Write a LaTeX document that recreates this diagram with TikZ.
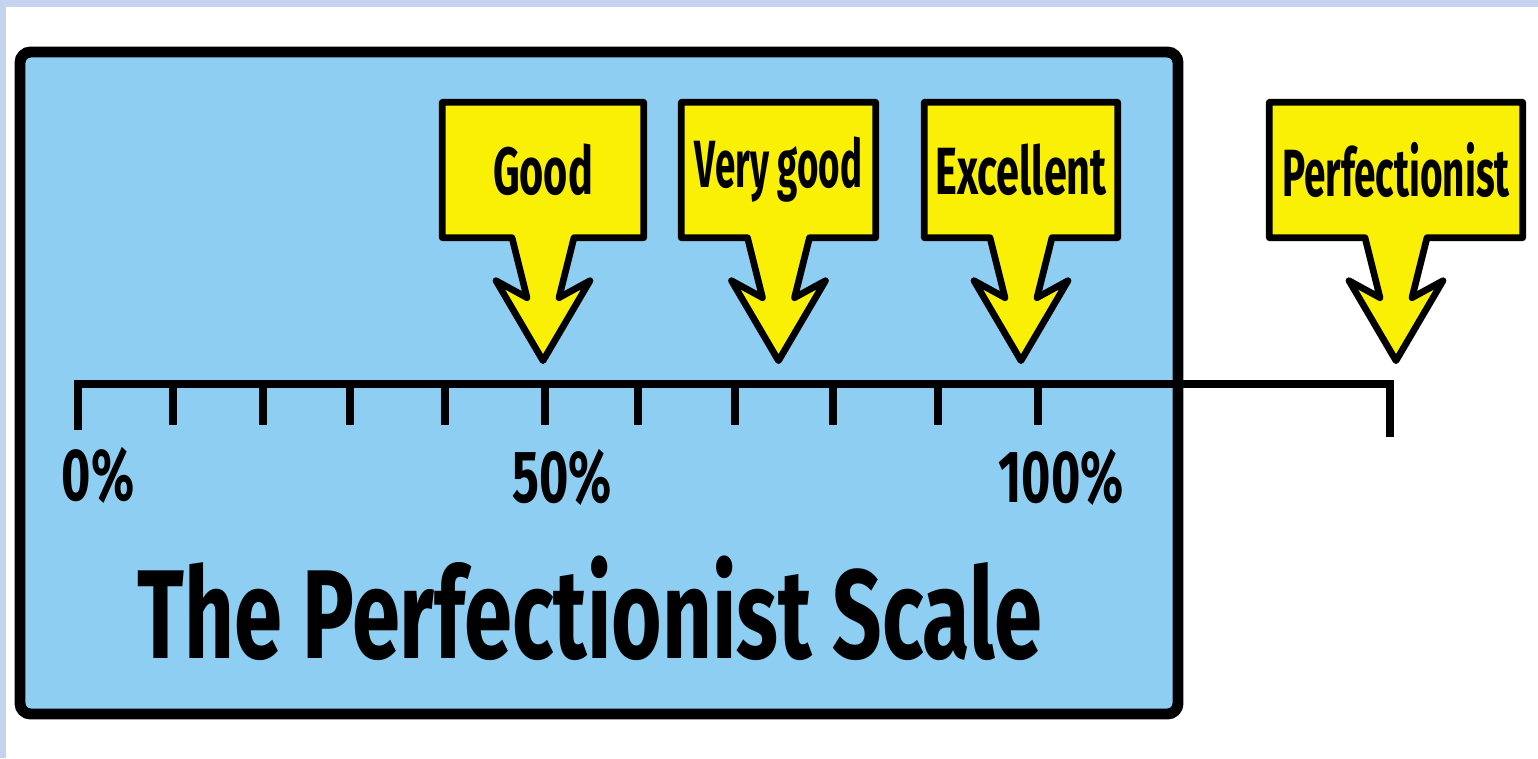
\documentclass[tikz,border=0pt]{standalone}
\usepackage{fontspec}
\setmainfont{Fira Sans}
\usetikzlibrary{calc}
\definecolor{boxblue}{RGB}{142,206,243}
\definecolor{tagyellow}{RGB}{250,240,5}
\definecolor{edgeblue}{RGB}{196,212,238}
\newcommand{\narrowtext}[2][0.62]{\scalebox{#1}[1]{#2}}
\tikzset{tag/.style = {fill=tagyellow, minimum width=#1, minimum height=1.34cm, inner sep=0, font=\fontsize{19}{19}\selectfont\bfseries}}
\tikzset{tagline/.style = {line width=1.9pt, line join=round}}
\tikzset{scaleline/.style = {line width=2pt}}
\tikzset{pct/.style = {anchor=base, font=\fontsize{21}{21}\selectfont\bfseries}}

\begin{document}
\begin{tikzpicture}
	\useasboundingbox (0,0) rectangle (15.38,7.58);
	\fill[edgeblue] (0,0) rectangle (15.38,7.58);
	\fill[white] (0.06,0) rectangle (15.38,7.51);
	% the blue panel
	\draw[line width=3.1pt, fill=boxblue, rounded corners=3pt] (0.20,0.44) rectangle (11.78,7.06);
	% scale with its ticks
	\draw[scaleline] (0.78,3.28) -- (0.78,3.74) -- (13.90,3.74) -- (13.90,3.21);
	\foreach \x in {1.73,2.63,3.50,4.45,5.45,6.38,7.35,8.33,9.38,10.38}
		\draw[scaleline] (\x,3.74) -- (\x,3.33);
	\node[pct] (p0)   at (0.98,2.58)  {\narrowtext[0.68]{0\%}};
	\node[pct] (p50)  at (5.62,2.56)  {\narrowtext[0.68]{50\%}};
	\node[pct] (p100) at (10.61,2.56) {\narrowtext[0.68]{100\%}};
	\node[anchor=base, font=\fontsize{36}{36}\selectfont\bfseries] (title) at (5.90,1.00)
		{\narrowtext[0.685]{The Perfectionist Scale}};
	% yellow tags
	\node[tag=2.00cm] (good)  at (5.43,5.88)  {\narrowtext{Good}};
	\node[tag=1.93cm] (vgood) at (7.785,5.88) {\narrowtext[0.55]{Very good}};
	\node[tag=1.92cm] (excel) at (10.21,5.88) {\narrowtext{Excellent}};
	\node[tag=2.52cm] (perf)  at (13.96,5.88) {\narrowtext[0.58]{Perfectionist}};
	\foreach \n in {good,vgood,excel,perf} {
		\fill[tagyellow] ($(\n.south)+(-0.31,0.03)$) -- ($(\n.south)+(-0.16,-0.60)$)
			-- ($(\n.south)+(-0.47,-0.43)$) -- ($(\n.south)+(0,-1.23)$)
			-- ($(\n.south)+(0.47,-0.43)$) -- ($(\n.south)+(0.16,-0.60)$)
			-- ($(\n.south)+(0.31,0.03)$) -- cycle;
		\draw[tagline] (\n.south west) -- (\n.north west) -- (\n.north east) -- (\n.south east)
			-- ($(\n.south)+(0.31,0)$) -- ($(\n.south)+(0.16,-0.60)$)
			-- ($(\n.south)+(0.47,-0.43)$) -- ($(\n.south)+(0,-1.23)$)
			-- ($(\n.south)+(-0.47,-0.43)$) -- ($(\n.south)+(-0.16,-0.60)$)
			-- ($(\n.south)+(-0.31,0)$) -- cycle;
	}
\end{tikzpicture}
\end{document}
